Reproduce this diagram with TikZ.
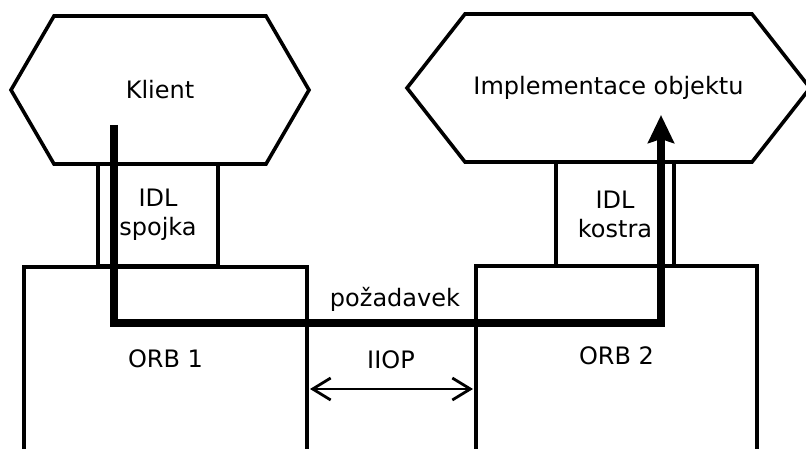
\documentclass[tikz,border=0pt]{standalone}
\usepackage{fontspec}
\setmainfont{DejaVu Sans}
\usetikzlibrary{arrows.meta}
\begin{document}
\begin{tikzpicture}[x=1pt,y=-1pt,
  outline/.style={draw, line width=3.6pt, line join=miter},
  frame/.style={outline, rectangle, inner sep=0pt, outer sep=0pt, anchor=north west},
  lbl/.style={font=\fontsize{24}{29}\selectfont, inner sep=0pt, align=center},
  hexarea/.style={rectangle, inner sep=0pt, outer sep=0pt, font=\fontsize{24}{29}\selectfont},
  flow/.style={line width=7.5pt, line join=miter, -{Stealth[length=28pt,width=26pt,inset=4pt]}},
  link/.style={line width=2.8pt, {Straight Barb[length=18pt,width=22pt]}-{Straight Barb[length=18pt,width=22pt]}, shorten <=3pt, shorten >=3pt}]
\clip (0,0) rectangle (806,449);

% client and servant hexagons
\node[hexarea, minimum width=298pt, minimum height=148pt] (klient) at (160,90) {Klient};
\draw[outline] (klient.west) -- ([xshift=43pt]klient.north west) -- ([xshift=-43pt]klient.north east)
  -- (klient.east) -- ([xshift=-43pt]klient.south east) -- ([xshift=43pt]klient.south west) -- cycle;
\node[hexarea, minimum width=403pt, minimum height=148pt] (impl) at (608.5,88) {Implementace objektu};
\draw[outline] (impl.west) -- ([xshift=58pt]impl.north west) -- ([xshift=-58pt]impl.north east)
  -- (impl.east) -- ([xshift=-58pt]impl.south east) -- ([xshift=58pt]impl.south west) -- cycle;

% IDL boxes
\node[frame, lbl, minimum width=120pt, minimum height=102pt] (stub) at (98,164) {IDL\\spojka};
\node[frame, lbl, minimum width=118pt, minimum height=104pt] (skel) at (556,162) {IDL\\kostra};

% ORB boxes, open at the bottom edge
\node[frame, minimum width=283pt, minimum height=300pt] (orb1) at (24,267) {};
\node[frame, minimum width=281pt, minimum height=300pt] (orb2) at (476,266) {};
\node[lbl, anchor=base] (orb1lbl) at (165.5,367) {ORB 1};
\node[lbl, anchor=base] (orb2lbl) at (616.5,364) {ORB 2};

% request path from the client through both ORBs to the object
\coordinate (src) at (114,125);
\coordinate (dst) at (661,115);
\coordinate (bend) at (0,323);
\draw[flow] (src) -- (src |- bend) -- (dst |- bend) -- (dst);
\node[lbl, anchor=base] (req) at (395,306) {požadavek};

% IIOP link between the ORBs
\coordinate (iiopy) at (0,389);
\draw[link] (orb1.east |- iiopy) -- (orb2.west |- iiopy);
\node[lbl, anchor=base] (iiop) at (391,368) {IIOP};
\end{tikzpicture}
\end{document}
